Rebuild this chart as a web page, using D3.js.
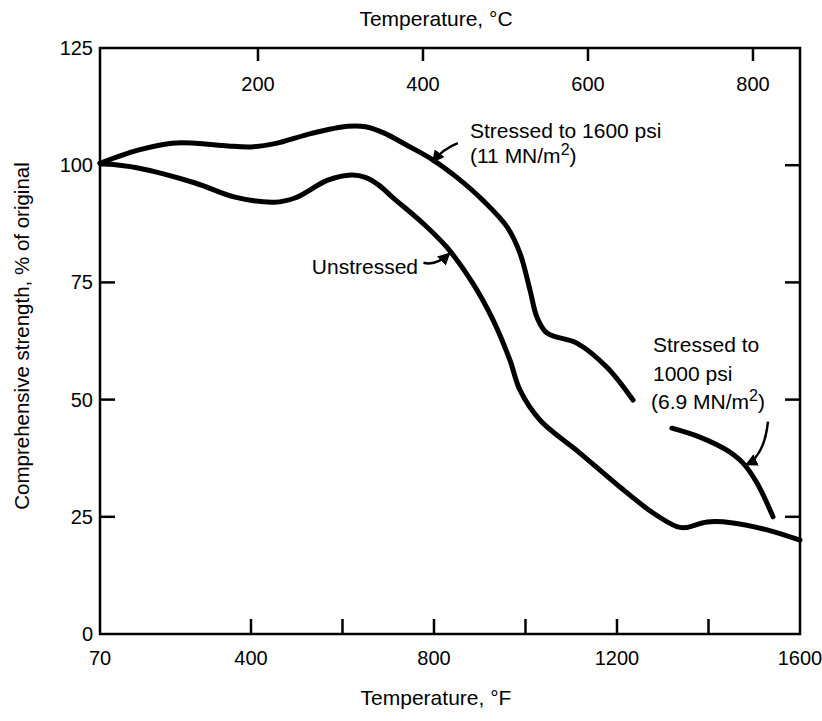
<body style="margin:0;background:#fff">
<svg width="822" height="721"></svg>
<script src="https://cdn.jsdelivr.net/npm/d3@7"></script>
<script>
    // values (°F, % of original strength)
    const stressed1600F = [70, 153, 227, 278, 350, 400, 452, 533, 612, 650, 690, 740, 798, 850, 907, 960, 988, 1010, 1025, 1047, 1113, 1178, 1235];
    const stressed1600Y = [100.4, 103.2, 104.7, 104.7, 104.1, 103.9, 104.6, 106.8, 108.3, 108.2, 106.9, 104.3, 101.1, 97.4, 92.5, 86.8, 81.2, 73.3, 67.6, 64.2, 62.0, 56.9, 49.9];

    const unstressedF = [70, 153, 278, 365, 452, 496, 568, 620, 650, 680, 710, 776, 828, 885, 929, 966, 988, 1032, 1119, 1207, 1279, 1331, 1350, 1397, 1454, 1528, 1600];
    const unstressedY = [100.4, 99.4, 96.2, 93.2, 92.1, 93.0, 96.8, 97.9, 97.4, 95.7, 93.1, 87.6, 82.5, 74.8, 67.0, 58.4, 52.0, 45.6, 38.6, 31.3, 25.8, 22.9, 22.7, 23.9, 23.7, 22.2, 20.0];

    const stressed1000F = [1320, 1381, 1440, 1475, 1506, 1541];
    const stressed1000Y = [43.9, 42.0, 39.2, 36.5, 32.2, 25.0];

    const fTicks = [400, 600, 800, 1000, 1200, 1400];
    const fLabels = [70, 400, 800, 1200, 1600];
    const cTicks = [200, 400, 600, 800];
    const yTicks = [25, 50, 75, 100];
    const yLabels = [0, 25, 50, 75, 100, 125];

    const svg = d3.select('svg');
    const font = '"Liberation Sans", Arial, Helvetica, sans-serif';

    const x = d3.scaleLinear().domain([70, 1600]).range([100, 800]);
    // the °C scale on the original is not exactly aligned with °F, follow the drawing
    const xc = d3.scaleLinear().domain([8.5, 857]).range([100, 800]);
    const y = d3.scaleLinear().domain([0, 125]).range([634, 48]);

    // frame
    svg.append('rect')
        .attr('x', x(70)).attr('y', y(125))
        .attr('width', x(1600) - x(70)).attr('height', y(0) - y(125))
        .attr('fill', 'none').attr('stroke', '#000').attr('stroke-width', 2.5);

    // inward ticks
    svg.selectAll('.tb').data(fTicks).join('line')
        .attr('x1', d => x(d)).attr('x2', d => x(d))
        .attr('y1', y(0)).attr('y2', y(0) - 15)
        .attr('stroke', '#000').attr('stroke-width', 2.5);
    svg.selectAll('.tt').data(cTicks).join('line')
        .attr('x1', d => xc(d)).attr('x2', d => xc(d))
        .attr('y1', y(125)).attr('y2', y(125) + 13)
        .attr('stroke', '#000').attr('stroke-width', 2.5);
    svg.selectAll('.tl').data(yTicks).join('line')
        .attr('x1', x(70)).attr('x2', x(70) + 15)
        .attr('y1', d => y(d)).attr('y2', d => y(d))
        .attr('stroke', '#000').attr('stroke-width', 2.5);
    svg.selectAll('.tr').data(yTicks).join('line')
        .attr('x1', x(1600)).attr('x2', x(1600) - 15)
        .attr('y1', d => y(d)).attr('y2', d => y(d))
        .attr('stroke', '#000').attr('stroke-width', 2.5);

    // tick labels
    svg.selectAll('.lb').data(fLabels).join('text')
        .attr('x', d => x(d)).attr('y', 665)
        .attr('text-anchor', 'middle')
        .style('font', '20px ' + font)
        .text(d => d);
    svg.selectAll('.lt').data(cTicks).join('text')
        .attr('x', d => xc(d)).attr('y', 91)
        .attr('text-anchor', 'middle')
        .style('font', '20px ' + font)
        .text(d => d);
    svg.selectAll('.ly').data(yLabels).join('text')
        .attr('x', 93).attr('y', d => y(d) + 7)
        .attr('text-anchor', 'end')
        .style('font', '20px ' + font)
        .text(d => d);

    // axis titles
    svg.append('text').attr('x', 436).attr('y', 26)
        .attr('text-anchor', 'middle').style('font', '21px ' + font)
        .text('Temperature, °C');
    svg.append('text').attr('x', 436).attr('y', 705)
        .attr('text-anchor', 'middle').style('font', '21px ' + font)
        .text('Temperature, °F');
    svg.append('text')
        .attr('transform', 'translate(29,336) rotate(-90)')
        .attr('text-anchor', 'middle').style('font', '20.5px ' + font)
        .text('Comprehensive strength, % of original');

    // curves
    const line = d3.line()
        .x(d => x(d[0])).y(d => y(d[1]))
        .curve(d3.curveCatmullRom.alpha(0.5));

    const series = [
        d3.zip(stressed1600F, stressed1600Y),
        d3.zip(unstressedF, unstressedY),
        d3.zip(stressed1000F, stressed1000Y)
    ];
    svg.selectAll('.curve').data(series).join('path')
        .attr('d', line)
        .attr('fill', 'none').attr('stroke', '#000')
        .attr('stroke-width', 5).attr('stroke-linecap', 'round');

    // arrow heads
    svg.append('defs').append('marker')
        .attr('id', 'arr').attr('viewBox', '0 0 10 10')
        .attr('refX', 9).attr('refY', 5)
        .attr('markerWidth', 5).attr('markerHeight', 5)
        .attr('markerUnits', 'strokeWidth')
        .attr('orient', 'auto')
        .append('path').attr('d', 'M0,0 L10,5 L0,10 Z').attr('fill', '#000');

    // arrows: start, control, end in data units
    const arrows = [
        [[852, 104.7], [820, 103.5], [797, 100.7]],
        [[777, 79.2], [805, 78.5], [834, 81.2]],
        [[1530, 45.3], [1522, 38], [1482, 36.1]]
    ];
    svg.selectAll('.arrow').data(arrows).join('path')
        .attr('d', d => 'M' + x(d[0][0]) + ',' + y(d[0][1]) +
            ' Q' + x(d[1][0]) + ',' + y(d[1][1]) +
            ' ' + x(d[2][0]) + ',' + y(d[2][1]))
        .attr('fill', 'none').attr('stroke', '#000').attr('stroke-width', 2.5)
        .attr('marker-end', 'url(#arr)');

    // annotations
    function note(px, py, txt, sup, tail) {
        let t = svg.append('text').attr('x', px).attr('y', py)
            .style('font', '21px ' + font).text(txt);
        if (sup) {
            t.append('tspan').attr('dy', -8).style('font-size', '16px').text(sup);
            t.append('tspan').attr('dy', 8).text(tail);
        }
        return t;
    }
    note(470, 138, 'Stressed to 1600 psi');
    note(470, 163, '(11 MN/m', '2', ')');
    note(418, 274, 'Unstressed').attr('text-anchor', 'end');
    note(653, 352, 'Stressed to');
    note(653, 381, '1000 psi');
    note(651, 409, '(6.9 MN/m', '2', ')');
</script>
</body>
